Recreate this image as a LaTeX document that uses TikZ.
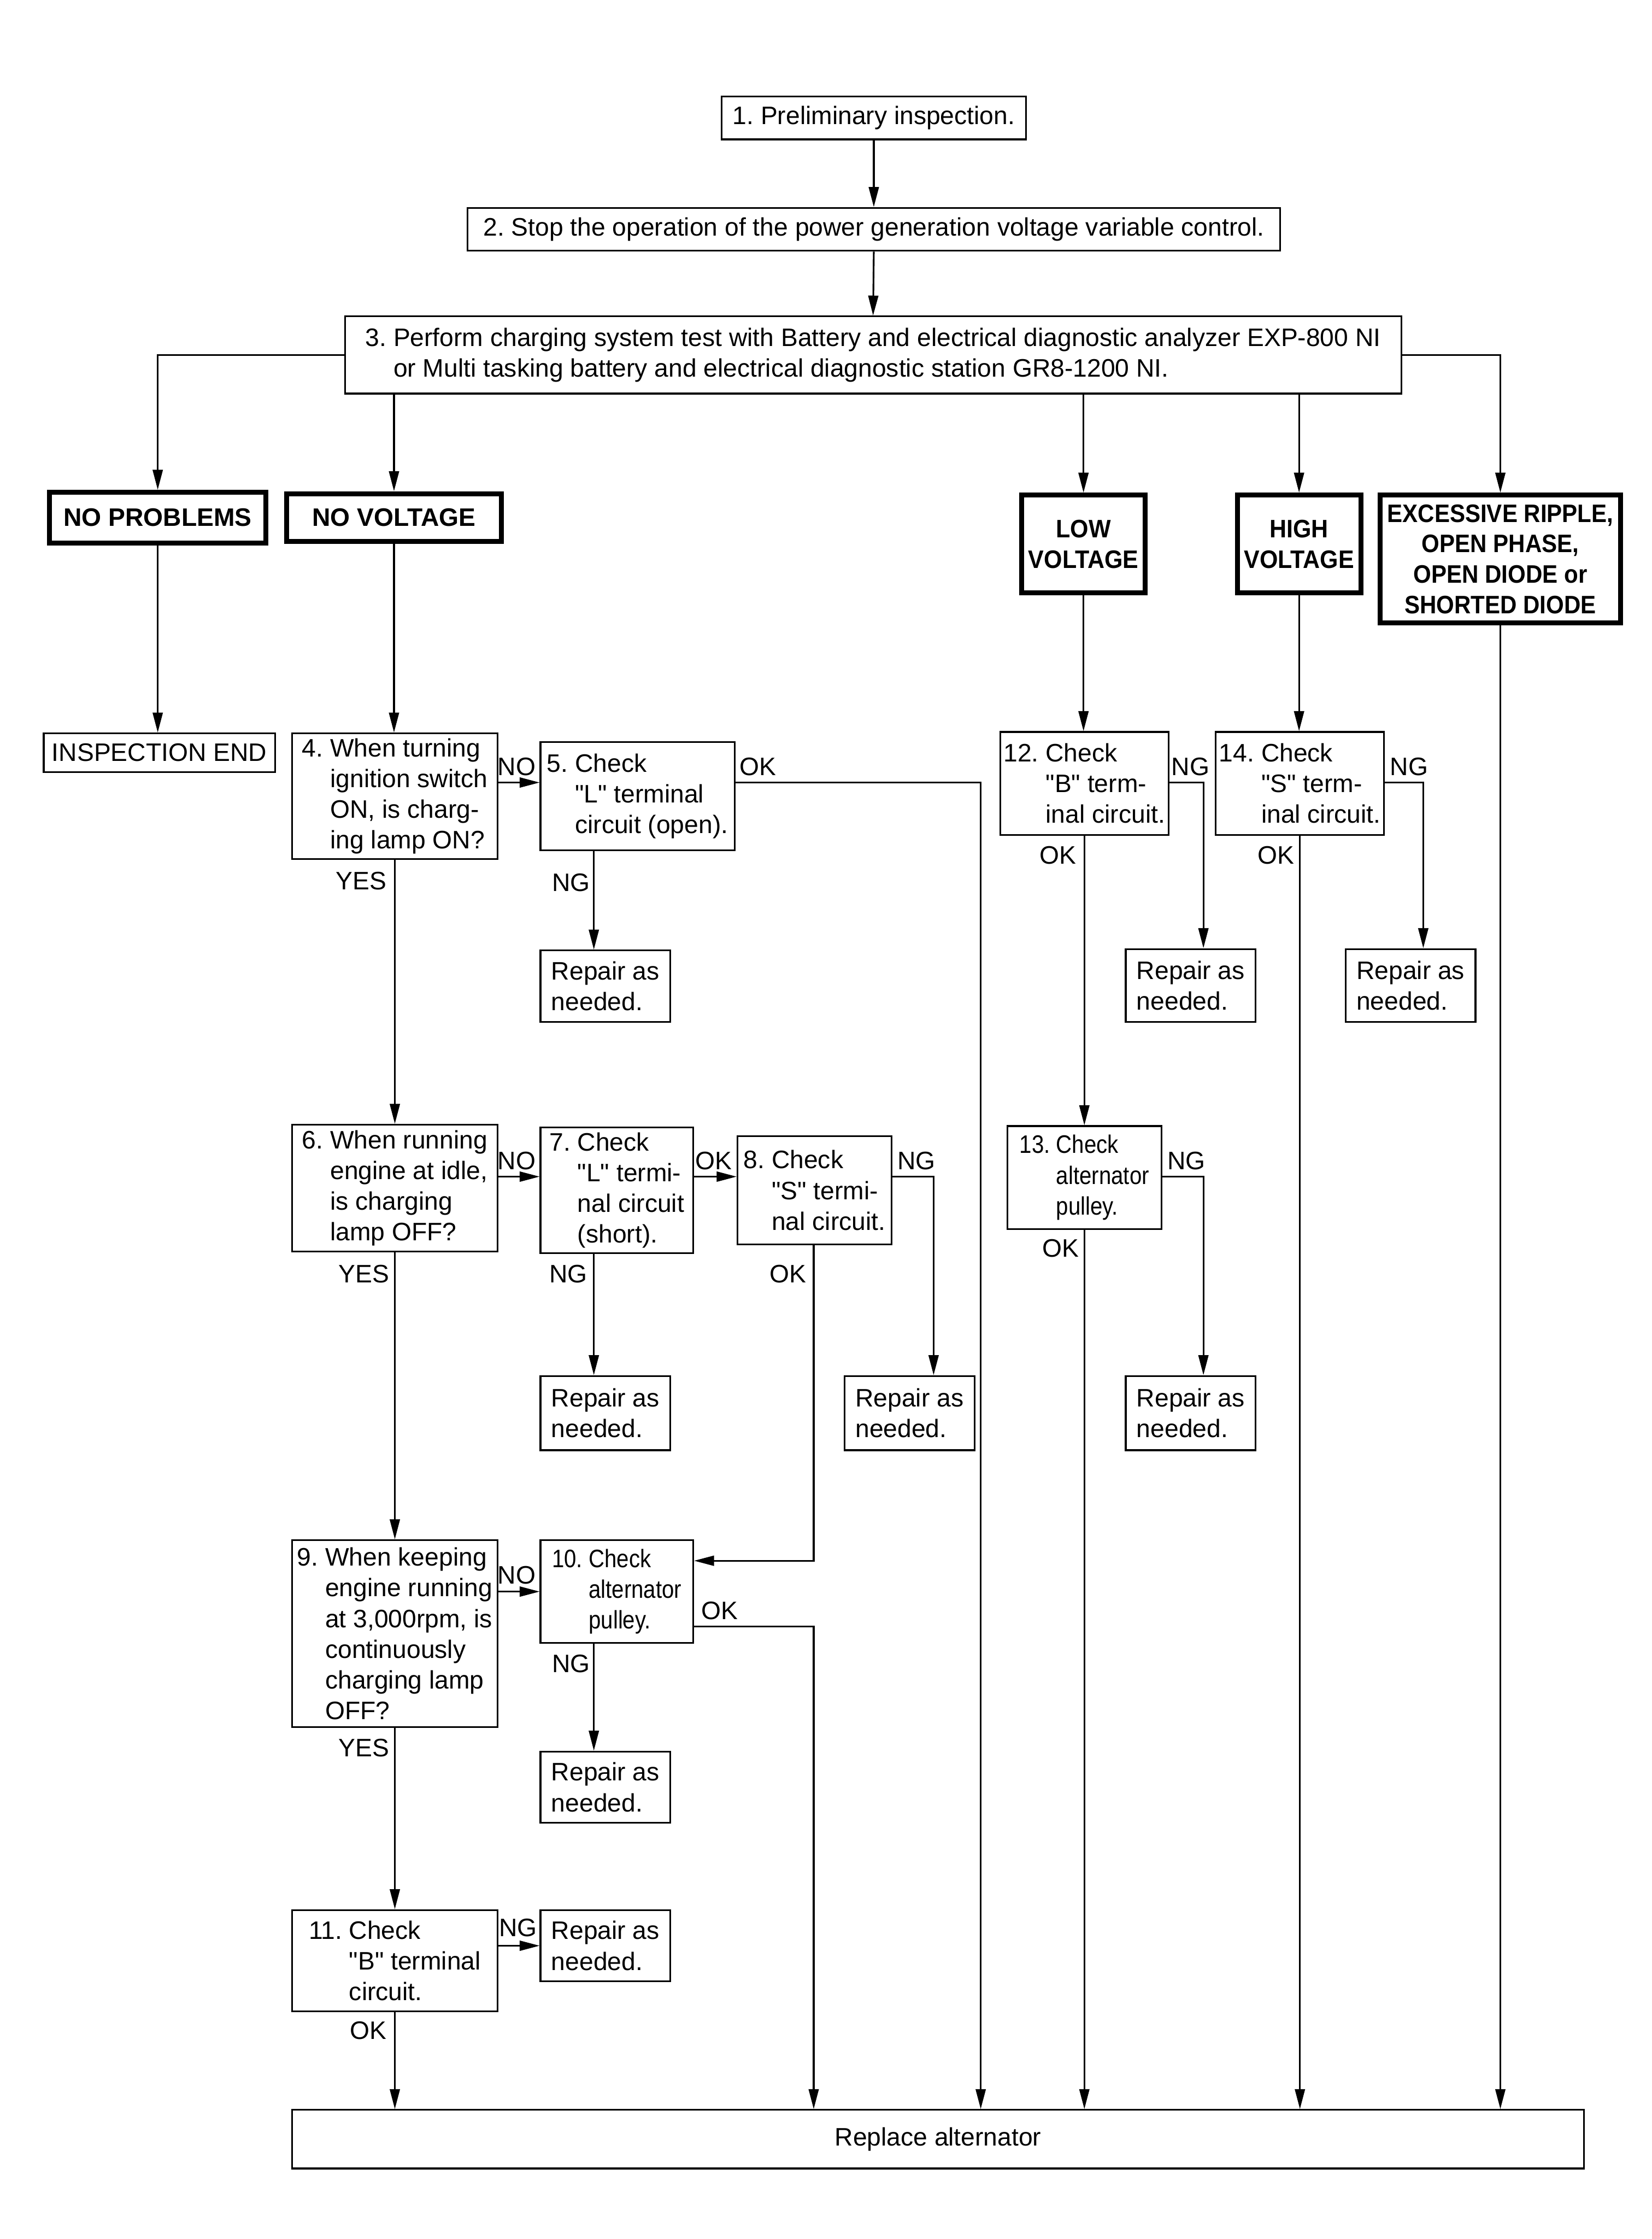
\documentclass[tikz,border=0pt]{standalone}
\usepackage{fontspec}
\setmainfont{Liberation Sans}[Ligatures=TeXOff]
\newfontfamily\condfont{Liberation Sans}[FakeStretch=0.87,Ligatures=TeXOff]
\newfontfamily\exfont{Liberation Sans}[FakeStretch=0.91,Ligatures=TeXOff]
\newfontfamily\lvfont{Liberation Sans}[FakeStretch=0.93,Ligatures=TeXOff]
\usetikzlibrary{arrows.meta}
\newcommand\hang[1]{\hphantom{#1}}
\newcommand\qq{"}
\begin{document}
\frenchspacing
\begin{tikzpicture}[x=1pt,y=-1pt,
  font=\fontsize{17.7}{21.5}\selectfont\frenchspacing,
  bx/.style={draw, line width=1.2pt, anchor=north west, inner sep=0pt, align=left},
  cbx/.style={bx, align=center},
  hd/.style={draw, line width=3.5pt, anchor=north west, inner sep=0pt, align=center,
    font=\fontsize{17.7}{21.5}\selectfont\bfseries},
  lbl/.style={inner sep=0pt},
  arr/.style={line width=1.2pt, -{Triangle[length=14pt,width=7pt]}},
]
\path[fill=white,use as bounding box] (0,0) rectangle (1157,1568);

% top boxes
\node[cbx, minimum width=213pt, minimum height=30pt] (b1) at (505,67) {1. Preliminary inspection.};
\node[cbx, minimum width=569pt, minimum height=30pt] (b2) at (327,145) {2. Stop the operation of the power generation voltage variable control.};
\node[bx, minimum width=740pt, minimum height=54pt] (b3) at (241,221) {3. Perform charging system test with Battery and electrical diagnostic analyzer EXP-800 NI\\\hang{3.\ }or Multi tasking battery and electrical diagnostic station GR8-1200 NI.};

% headers
\node[hd, minimum width=151.5pt, minimum height=35.5pt] (np) at (33,343) {NO PROBLEMS};
\node[hd, minimum width=150.5pt, minimum height=33.5pt] (nv) at (199,344) {NO VOLTAGE};
\node[hd, minimum width=86.5pt, minimum height=68.5pt, font=\fontsize{17.7}{21.5}\selectfont\lvfont\bfseries] (lv) at (714,345) {LOW\\VOLTAGE};
\node[hd, minimum width=86.5pt, minimum height=68.5pt, font=\fontsize{17.7}{21.5}\selectfont\lvfont\bfseries] (hv) at (865,345) {HIGH\\VOLTAGE};
\node[hd, minimum width=168.5pt, minimum height=89.5pt, font=\fontsize{17.7}{21.3}\selectfont\exfont\bfseries] (ex) at (965,345) {EXCESSIVE RIPPLE,\\OPEN PHASE,\\OPEN DIODE or\\SHORTED DIODE};

% left column
\node[cbx, minimum width=162pt, minimum height=27pt] (ie) at (30,513) {INSPECTION END};
\node[bx, minimum width=144pt, minimum height=88pt] (b4) at (204,513) {4.\ When turning\\\hang{4.\ }ignition switch\\\hang{4.\ }ON, is charg-\\\hang{4.\ }ing lamp ON?};
\node[bx, minimum width=136pt, minimum height=76pt] (b5) at (378,519) {5.\ Check\\\hang{5.\ }\qq L\qq{} terminal\\\hang{5.\ }circuit (open).};
\node[bx, minimum width=91pt, minimum height=50pt] (r5) at (378,665) {Repair as\\needed.};
\node[bx, minimum width=144pt, minimum height=89pt] (b6) at (204,787) {6.\ When running\\\hang{6.\ }engine at idle,\\\hang{6.\ }is charging\\\hang{6.\ }lamp OFF?};
\node[bx, minimum width=107pt, minimum height=88pt] (b7) at (378,789) {7.\ Check\\\hang{7.\ }\qq L\qq{} termi-\\\hang{7.\ }nal circuit\\\hang{7.\ }(short).};
\node[bx, minimum width=108pt, minimum height=76pt] (b8) at (516,795) {8.\ Check\\\hang{8.\ }\qq S\qq{} termi-\\\hang{8.\ }nal circuit.};
\node[bx, minimum width=91pt, minimum height=52pt] (r7) at (378,963) {Repair as\\needed.};
\node[bx, minimum width=91pt, minimum height=52pt] (r8) at (591,963) {Repair as\\needed.};
\node[bx, minimum width=144pt, minimum height=131pt] (b9) at (204,1078) {9.\ When keeping\\\hang{9.\ }engine running\\\hang{9.\ }at 3,000rpm, is\\\hang{9.\ }continuously\\\hang{9.\ }charging lamp\\\hang{9.\ }OFF?};
\node[bx, minimum width=107pt, minimum height=72pt, font=\fontsize{17.7}{21.5}\selectfont\condfont] (b10) at (378,1078) {10.\ Check\\\hang{10.\ }alternator\\\hang{10.\ }pulley.};
\node[bx, minimum width=91pt, minimum height=50pt] (r10) at (378,1226) {Repair as\\needed.};
\node[bx, minimum width=144pt, minimum height=71pt] (b11) at (204,1337) {11.\ Check\\\hang{11.\ }\qq B\qq{} terminal\\\hang{11.\ }circuit.};
\node[bx, minimum width=91pt, minimum height=50pt] (r11) at (378,1337) {Repair as\\needed.};

% right columns
\node[bx, minimum width=118pt, minimum height=72pt] (b12) at (700,512) {12.\ Check\\\hang{12.\ }\qq B\qq{} term-\\\hang{12.\ }inal circuit.};
\node[bx, minimum width=91pt, minimum height=51pt] (r12) at (788,664) {Repair as\\needed.};
\node[bx, minimum width=108pt, minimum height=72pt, font=\fontsize{17.7}{21.5}\selectfont\condfont] (b13) at (705,788) {13.\ Check\\\hang{13.\ }alternator\\\hang{13.\ }pulley.};
\node[bx, minimum width=91pt, minimum height=52pt] (r13) at (788,963) {Repair as\\needed.};
\node[bx, minimum width=118pt, minimum height=72pt] (b14) at (851,512) {14.\ Check\\\hang{14.\ }\qq S\qq{} term-\\\hang{14.\ }inal circuit.};
\node[bx, minimum width=91pt, minimum height=51pt] (r14) at (942,664) {Repair as\\needed.};

% bottom
\node[cbx, minimum width=905pt, minimum height=41pt] (ra) at (204,1477) {Replace alternator};

% helper coordinates
\coordinate (ya) at (0,548);
\coordinate (yb) at (0,824);
\coordinate (xL) at (416,0);
\coordinate (k5) at (687,548);
\coordinate (k8) at (654,824);
\coordinate (k8ok) at (570,1093);
\coordinate (k10) at (570,1139);
\coordinate (k12) at (843,548);
\coordinate (k13) at (843,824);
\coordinate (k14) at (997,548);

% connectors
\draw[arr] (b1.south) -- (b2.north);
\draw[arr] (b2.south) -- (b3.north);
\draw[arr] (b3.west) -| (np.north);
\draw[arr] (b3.south -| nv.north) -- (nv.north);
\draw[arr] (b3.south -| lv.north) -- (lv.north);
\draw[arr] (b3.south -| hv.north) -- (hv.north);
\draw[arr] (b3.east) -| (ex.north);
\draw[arr] (np.south) -- (np.south |- ie.north);
\draw[arr] (nv.south) -- (nv.south |- b4.north);
\draw[arr] (b4.east |- ya) -- (b5.west |- ya);
\draw[arr] (b5.east |- ya) -- (k5) -- (k5 |- ra.north);
\draw[arr] (b5.south -| xL) -- (r5.north -| xL);
\draw[arr] (b4.south) -- (b6.north);
\draw[arr] (b6.east |- yb) -- (b7.west |- yb);
\draw[arr] (b7.east |- yb) -- (b8.west |- yb);
\draw[arr] (b8.east |- yb) -- (k8) -- (k8 |- r8.north);
\draw[arr] (b7.south -| xL) -- (r7.north -| xL);
\draw[arr] (b8.south -| k8ok) -- (k8ok) -- (b10.east |- k8ok);
\draw[arr] (b6.south) -- (b9.north);
\draw[arr] (b9.east |- b10.west) -- (b10.west);
\draw[arr] (b10.east |- k10) -- (k10) -- (k10 |- ra.north);
\draw[arr] (b10.south -| xL) -- (r10.north -| xL);
\draw[arr] (b9.south) -- (b11.north);
\draw[arr] (b11.east |- r11.west) -- (r11.west);
\draw[arr] (b11.south) -- (b11.south |- ra.north);
\draw[arr] (lv.south) -- (lv.south |- b12.north);
\draw[arr] (b12.east |- ya) -- (k12) -- (k12 |- r12.north);
\draw[arr] (b12.south) -- (b12.south |- b13.north);
\draw[arr] (b13.east |- yb) -- (k13) -- (k13 |- r13.north);
\draw[arr] (b13.south) -- (b13.south |- ra.north);
\draw[arr] (hv.south) -- (hv.south |- b14.north);
\draw[arr] (b14.east |- ya) -- (k14) -- (k14 |- r14.north);
\draw[arr] (b14.south) -- (b14.south |- ra.north);
\draw[arr] (ex.south) -- (ex.south |- ra.north);

% labels
\node[lbl] (l1) at (362,537) {NO};
\node[lbl] (l2) at (531,537) {OK};
\node[lbl] (l3) at (400,618) {NG};
\node[lbl] (l4) at (253,617) {YES};
\node[lbl] (l5) at (362,813) {NO};
\node[lbl] (l6) at (500,813) {OK};
\node[lbl] (l7) at (642,813) {NG};
\node[lbl] (l8) at (398,892) {NG};
\node[lbl] (l9) at (552,892) {OK};
\node[lbl] (l10) at (255,892) {YES};
\node[lbl] (l11) at (362,1103) {NO};
\node[lbl] (l12) at (504,1128) {OK};
\node[lbl] (l13) at (400,1165) {NG};
\node[lbl] (l14) at (255,1224) {YES};
\node[lbl] (l15) at (363,1350) {NG};
\node[lbl] (l16) at (258,1422) {OK};
\node[lbl] (l17) at (834,537) {NG};
\node[lbl] (l18) at (741,599) {OK};
\node[lbl] (l19) at (987,537) {NG};
\node[lbl] (l20) at (894,599) {OK};
\node[lbl] (l21) at (831,813) {NG};
\node[lbl] (l22) at (743,874) {OK};
\end{tikzpicture}
\end{document}
